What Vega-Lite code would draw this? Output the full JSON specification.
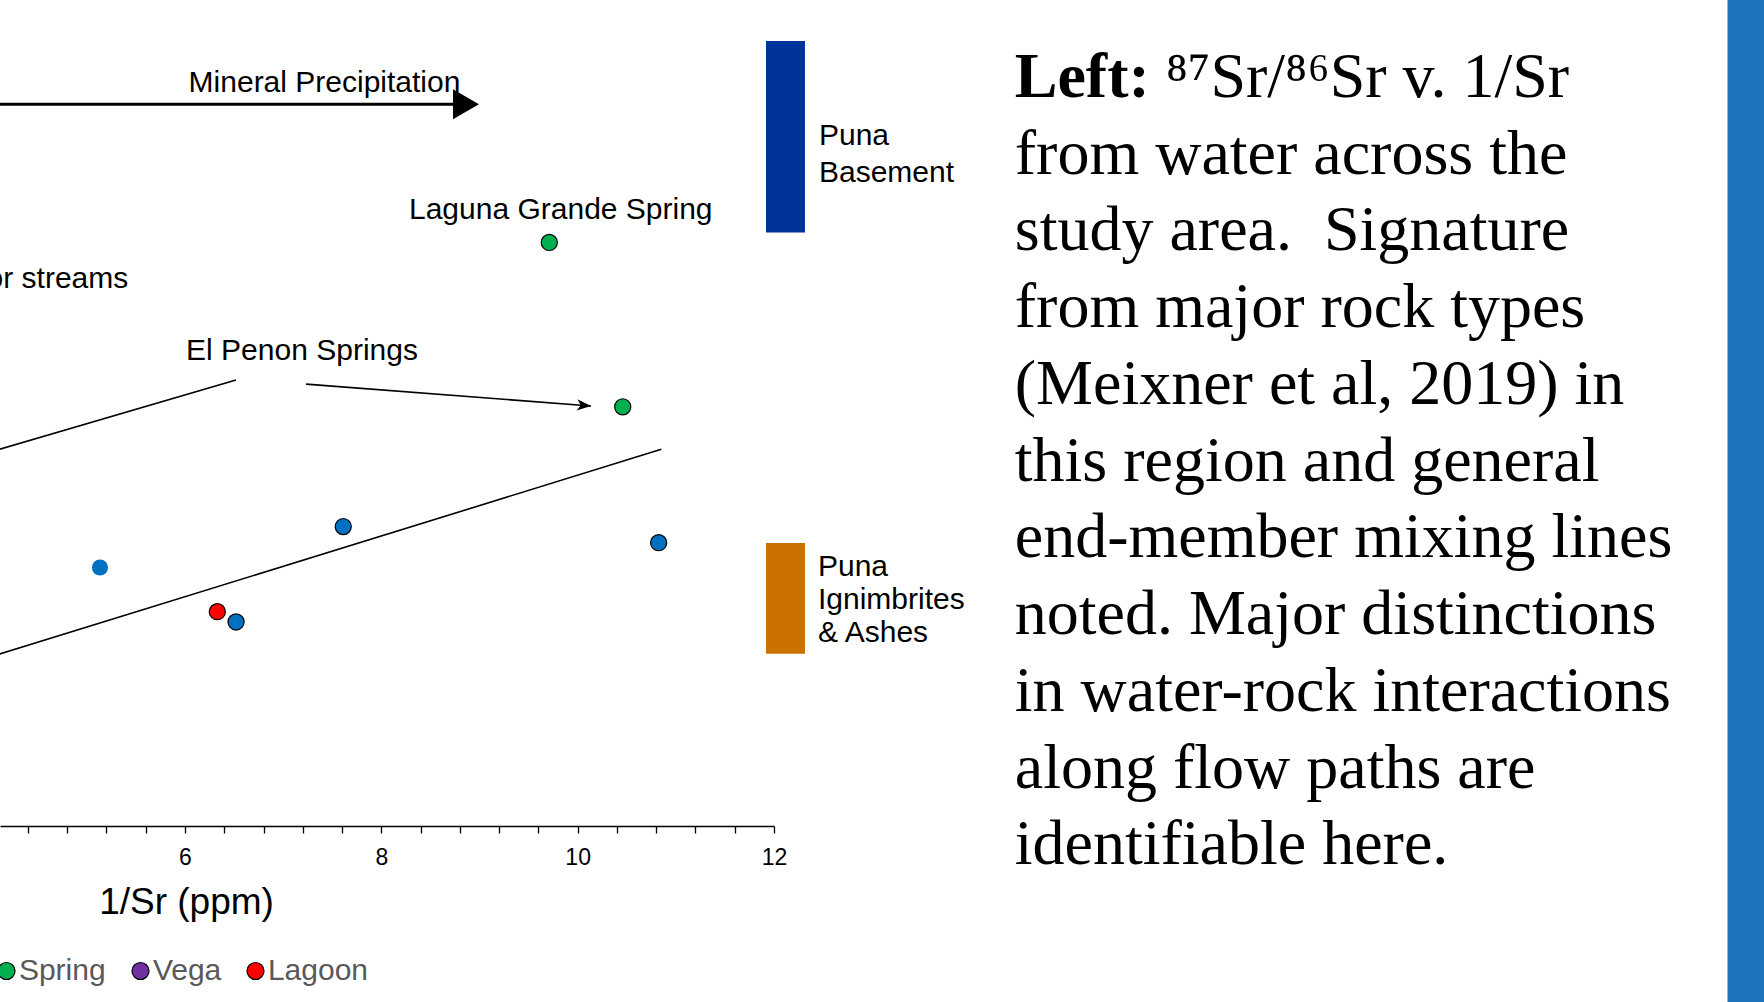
{
  "$schema": "https://vega.github.io/schema/vega-lite/v6.json",
  "autosize": {"type": "none"},
  "padding": {"left": 0, "top": 0, "right": 1764, "bottom": 1002},
  "background": "white",
  "bounds": "flush",
  "spacing": 240.75,
  "config": {
    "font": "Liberation Sans",
    "view": {"stroke": null},
    "axis": {"grid": false}
  },
  "datasets": {
    "samples": [
      {"type": "Spring", "inv_sr": 9.711, "sr_ratio": 0.71913},
      {"type": "Spring", "inv_sr": 10.459, "sr_ratio": 0.71515},
      {"type": "Stream", "inv_sr": 7.612, "sr_ratio": 0.71225},
      {"type": "Stream", "inv_sr": 10.825, "sr_ratio": 0.71186},
      {"type": "River", "inv_sr": 5.134, "sr_ratio": 0.71126},
      {"type": "Lagoon", "inv_sr": 6.329, "sr_ratio": 0.71019},
      {"type": "Stream", "inv_sr": 6.52, "sr_ratio": 0.70994}
    ],
    "guides": [
      {"segment": "mixing", "step": 1, "inv_sr": 2.0, "sr_ratio": 0.70761},
      {"segment": "mixing", "step": 2, "inv_sr": 10.852, "sr_ratio": 0.71412},
      {"segment": "penon_west", "step": 1, "inv_sr": 2.5876, "sr_ratio": 0.71306},
      {"segment": "penon_west", "step": 2, "inv_sr": 6.519, "sr_ratio": 0.7158},
      {"segment": "penon_east", "step": 1, "inv_sr": 7.2325, "sr_ratio": 0.7157},
      {"segment": "penon_east", "step": 2, "inv_sr": 10.136, "sr_ratio": 0.71517},
      {"segment": "precipitation", "step": 1, "inv_sr": 0.0, "sr_ratio": 0.722475},
      {"segment": "precipitation", "step": 2, "inv_sr": 8.8, "sr_ratio": 0.722475}
    ],
    "heads": [
      {"segment": "precipitation", "inv_sr": 8.8624, "sr_ratio": 0.722475},
      {"segment": "penon_east", "inv_sr": 10.0645, "sr_ratio": 0.715183}
    ],
    "labels": [
      {"label": "Mineral Precipitation", "inv_sr": 7.421, "sr_ratio": 0.72277},
      {"label": "Laguna Grande Spring", "inv_sr": 9.828, "sr_ratio": 0.71969},
      {"label": "El Penon Springs", "inv_sr": 7.192, "sr_ratio": 0.71628},
      {"label": "Major streams", "inv_sr": 5.4224, "sr_ratio": 0.71802}
    ],
    "rocks": [
      {"rock": "Puna Basement", "lo": 0.71937, "hi": 0.72401, "label": "Puna\nBasement", "label_at": 0.7217},
      {"rock": "Puna Ignimbrites & Ashes", "lo": 0.70917, "hi": 0.71185, "label": "Puna\nIgnimbrites\n& Ashes", "label_at": 0.71127}
    ],
    "notes": [
      {"line": 1, "part": "lead", "text": "Left:"},
      {"line": 1, "part": "head", "text": "⁸⁷Sr/⁸⁶Sr v. 1/Sr"},
      {"line": 2, "part": "body", "text": "from water across the"},
      {"line": 3, "part": "body", "text": "study area.\u00a0 Signature"},
      {"line": 4, "part": "body", "text": "from major rock types"},
      {"line": 5, "part": "body", "text": "(Meixner et al, 2019) in"},
      {"line": 6, "part": "body", "text": "this region and general"},
      {"line": 7, "part": "body", "text": "end-member mixing lines"},
      {"line": 8, "part": "body", "text": "noted. Major distinctions"},
      {"line": 9, "part": "body", "text": "in water-rock interactions"},
      {"line": 10, "part": "body", "text": "along flow paths are"},
      {"line": 11, "part": "body", "text": "identifiable here."}
    ]
  },
  "hconcat": [
    {
      "width": 774,
      "height": 826,
      "layer": [
        {
          "data": {"name": "guides"},
          "transform": [{"filter": "datum.segment !== 'precipitation'"}],
          "mark": {"type": "line", "color": "black", "strokeWidth": 1.6, "clip": false},
          "encoding": {
            "x": {"field": "inv_sr", "type": "quantitative", "scale": {"domain": [4.1155, 12], "nice": false, "zero": false}, "title": "1/Sr (ppm)"},
            "y": {"field": "sr_ratio", "type": "quantitative", "scale": {"domain": [0.705, 0.725], "nice": false, "zero": false}, "axis": null},
            "detail": {"field": "segment", "type": "nominal"},
            "order": {"field": "step", "type": "quantitative"}
          }
        },
        {
          "data": {"name": "guides"},
          "transform": [{"filter": "datum.segment === 'precipitation'"}],
          "mark": {"type": "line", "color": "black", "strokeWidth": 3, "clip": false},
          "encoding": {
            "x": {"field": "inv_sr", "type": "quantitative", "scale": {"domain": [4.1155, 12], "nice": false, "zero": false}, "title": "1/Sr (ppm)"},
            "y": {"field": "sr_ratio", "type": "quantitative", "scale": {"domain": [0.705, 0.725], "nice": false, "zero": false}, "axis": null},
            "order": {"field": "step", "type": "quantitative"}
          }
        },
        {
          "data": {"name": "heads"},
          "transform": [{"filter": "datum.segment === 'precipitation'"}],
          "mark": {"type": "point", "shape": "triangle-right", "size": 900, "filled": true, "color": "black", "opacity": 1, "strokeWidth": 0},
          "encoding": {
            "x": {"field": "inv_sr", "type": "quantitative", "scale": {"domain": [4.1155, 12], "nice": false, "zero": false}, "title": "1/Sr (ppm)"},
            "y": {"field": "sr_ratio", "type": "quantitative", "scale": {"domain": [0.705, 0.725], "nice": false, "zero": false}, "axis": null}
          }
        },
        {
          "data": {"name": "heads"},
          "transform": [{"filter": "datum.segment === 'penon_east'"}],
          "mark": {"type": "point", "shape": "M-1,-0.8L1,0L-1,0.8L-0.45,0Z", "size": 196, "angle": 4.4, "filled": true, "color": "black", "opacity": 1, "strokeWidth": 0},
          "encoding": {
            "x": {"field": "inv_sr", "type": "quantitative", "scale": {"domain": [4.1155, 12], "nice": false, "zero": false}, "title": "1/Sr (ppm)"},
            "y": {"field": "sr_ratio", "type": "quantitative", "scale": {"domain": [0.705, 0.725], "nice": false, "zero": false}, "axis": null}
          }
        },
        {
          "data": {"name": "rocks"},
          "mark": {"type": "rect"},
          "encoding": {
            "x": {"datum": 11.9184, "type": "quantitative", "scale": {"domain": [4.1155, 12], "nice": false, "zero": false}, "title": "1/Sr (ppm)"},
            "x2": {"datum": 12.3157},
            "y": {"field": "hi", "type": "quantitative", "scale": {"domain": [0.705, 0.725], "nice": false, "zero": false}, "axis": null},
            "y2": {"field": "lo"},
            "fill": {"field": "rock", "type": "nominal", "scale": {"domain": ["Puna Basement", "Puna Ignimbrites & Ashes"], "range": ["#003399", "#CC7000"]}, "legend": null}
          }
        },
        {
          "data": {"name": "rocks"},
          "transform": [{"filter": "datum.rock === 'Puna Basement'"}],
          "mark": {"type": "text", "align": "left", "baseline": "middle", "dx": 14, "fontSize": 30, "lineBreak": "\n", "lineHeight": 36.6, "color": "black"},
          "encoding": {
            "x": {"datum": 12.3157, "type": "quantitative", "scale": {"domain": [4.1155, 12], "nice": false, "zero": false}, "title": "1/Sr (ppm)"},
            "y": {"field": "label_at", "type": "quantitative", "scale": {"domain": [0.705, 0.725], "nice": false, "zero": false}, "axis": null},
            "text": {"field": "label", "type": "nominal"}
          }
        },
        {
          "data": {"name": "rocks"},
          "transform": [{"filter": "datum.rock !== 'Puna Basement'"}],
          "mark": {"type": "text", "align": "left", "baseline": "middle", "dx": 13, "fontSize": 30, "lineBreak": "\n", "lineHeight": 33, "color": "black"},
          "encoding": {
            "x": {"datum": 12.3157, "type": "quantitative", "scale": {"domain": [4.1155, 12], "nice": false, "zero": false}, "title": "1/Sr (ppm)"},
            "y": {"field": "label_at", "type": "quantitative", "scale": {"domain": [0.705, 0.725], "nice": false, "zero": false}, "axis": null},
            "text": {"field": "label", "type": "nominal"}
          }
        },
        {
          "data": {"name": "labels"},
          "transform": [{"filter": "datum.label !== 'Major streams'"}],
          "mark": {"type": "text", "align": "center", "baseline": "alphabetic", "fontSize": 30, "color": "black"},
          "encoding": {
            "x": {"field": "inv_sr", "type": "quantitative", "scale": {"domain": [4.1155, 12], "nice": false, "zero": false}, "title": "1/Sr (ppm)"},
            "y": {"field": "sr_ratio", "type": "quantitative", "scale": {"domain": [0.705, 0.725], "nice": false, "zero": false}, "axis": null},
            "text": {"field": "label", "type": "nominal"}
          }
        },
        {
          "data": {"name": "labels"},
          "transform": [{"filter": "datum.label === 'Major streams'"}],
          "mark": {"type": "text", "align": "right", "baseline": "alphabetic", "fontSize": 30, "color": "black"},
          "encoding": {
            "x": {"field": "inv_sr", "type": "quantitative", "scale": {"domain": [4.1155, 12], "nice": false, "zero": false}, "title": "1/Sr (ppm)"},
            "y": {"field": "sr_ratio", "type": "quantitative", "scale": {"domain": [0.705, 0.725], "nice": false, "zero": false}, "axis": null},
            "text": {"field": "label", "type": "nominal"}
          }
        },
        {
          "data": {"name": "samples"},
          "mark": {"type": "point", "shape": "circle", "filled": true, "size": 260, "strokeWidth": 1.2, "opacity": 1},
          "encoding": {
            "x": {
              "field": "inv_sr",
              "type": "quantitative",
              "scale": {"domain": [4.1155, 12], "nice": false, "zero": false},
              "title": "1/Sr (ppm)",
              "axis": {
                "values": [4.4, 4.8, 5.2, 5.6, 6, 6.4, 6.8, 7.2, 7.6, 8, 8.4, 8.8, 9.2, 9.6, 10, 10.4, 10.8, 11.2, 11.6, 12],
                "format": ".0f",
                "labelExpr": "datum.value % 2 === 0 ? datum.label : ''",
                "domainColor": "black",
                "domainWidth": 1.5,
                "tickColor": "black",
                "tickWidth": 1.3,
                "tickSize": 7,
                "labelFontSize": 23,
                "labelColor": "black",
                "labelPadding": 13,
                "labelFlush": false,
                "labelOverlap": false,
                "labelBound": false,
                "titleFontSize": 37,
                "titleFontWeight": "normal",
                "titleColor": "black",
                "titleX": 186,
                "titleY": 87.3,
                "titleBaseline": "alphabetic",
                "titleAlign": "center"
              }
            },
            "y": {"field": "sr_ratio", "type": "quantitative", "scale": {"domain": [0.705, 0.725], "nice": false, "zero": false}, "axis": null},
            "color": {
              "field": "type",
              "type": "nominal",
              "scale": {"domain": ["River", "Stream", "Spring", "Vega", "Lagoon"], "range": ["#0070C0", "#0070C0", "#00B050", "#7030A0", "#FF0000"]},
              "legend": {
                "orient": "none",
                "legendX": -269.5,
                "legendY": 956,
                "direction": "horizontal",
                "title": null,
                "padding": 0,
                "labelFontSize": 30,
                "labelColor": "#595959",
                "labelOffset": -2.6,
                "columnPadding": 19,
                "symbolType": "circle",
                "symbolSize": 290,
                "symbolStrokeColor": "black",
                "symbolStrokeWidth": 1.2,
                "symbolOpacity": 1,
                "encode": {"symbols": {"update": {"stroke": {"value": "black"}, "strokeWidth": {"value": 1.2}, "opacity": {"value": 1}, "size": {"value": 290}}}}
              }
            },
            "stroke": {
              "field": "type",
              "type": "nominal",
              "scale": {"domain": ["River", "Stream", "Spring", "Vega", "Lagoon"], "range": ["transparent", "black", "black", "black", "black"]},
              "legend": null
            }
          }
        }
      ]
    },
    {
      "width": 471.5,
      "height": 921,
      "data": {"name": "notes"},
      "layer": [
        {
          "transform": [{"filter": "datum.part === 'lead'"}],
          "mark": {"type": "text", "font": "Liberation Serif", "fontSize": 64, "fontWeight": "bold", "align": "left", "baseline": "alphabetic", "dy": 20, "color": "black"},
          "encoding": {
            "x": {"datum": 0, "type": "quantitative", "scale": {"domain": [0, 1]}, "axis": null},
            "y": {"field": "line", "type": "quantitative", "scale": {"domain": [0, 12], "reverse": true, "nice": false, "zero": false}, "axis": null},
            "text": {"field": "text", "type": "nominal"}
          }
        },
        {
          "transform": [{"filter": "datum.part === 'head'"}],
          "mark": {"type": "text", "font": "Liberation Serif", "fontSize": 64, "align": "left", "baseline": "alphabetic", "dy": 20, "dx": 151, "color": "black"},
          "encoding": {
            "x": {"datum": 0, "type": "quantitative", "scale": {"domain": [0, 1]}, "axis": null},
            "y": {"field": "line", "type": "quantitative", "scale": {"domain": [0, 12], "reverse": true, "nice": false, "zero": false}, "axis": null},
            "text": {"field": "text", "type": "nominal"}
          }
        },
        {
          "transform": [{"filter": "datum.part === 'body'"}],
          "mark": {"type": "text", "font": "Liberation Serif", "fontSize": 64, "align": "left", "baseline": "alphabetic", "dy": 20, "color": "black"},
          "encoding": {
            "x": {"datum": 0, "type": "quantitative", "scale": {"domain": [0, 1]}, "axis": null},
            "y": {"field": "line", "type": "quantitative", "scale": {"domain": [0, 12], "reverse": true, "nice": false, "zero": false}, "axis": null},
            "text": {"field": "text", "type": "nominal"}
          }
        }
      ]
    },
    {
      "width": 37,
      "height": 1002,
      "data": {"values": [{"band": "accent"}]},
      "mark": {"type": "rect", "color": "#1F75BC"},
      "encoding": {}
    }
  ]
}
